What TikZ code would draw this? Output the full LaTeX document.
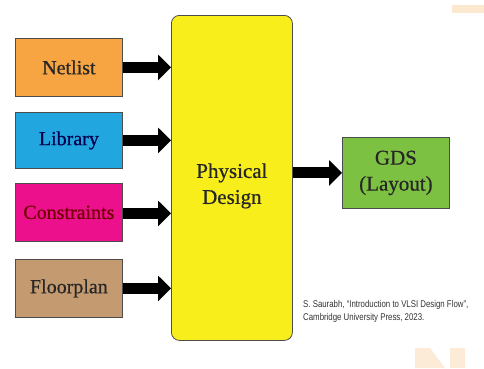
\documentclass[tikz,border=0pt]{standalone}
\usepackage{fontspec}
\setmainfont{Liberation Serif}[FakeBold=0.6]
\newfontfamily\labfont{Liberation Serif}[FakeBold=0.6]
\newfontfamily\citefont{Liberation Sans}[FakeStretch=0.8]
\usetikzlibrary{arrows.meta}
\definecolor{cnet}{HTML}{F7A443}
\definecolor{clib}{HTML}{22A6E0}
\definecolor{ccon}{HTML}{EC108C}
\definecolor{cflo}{HTML}{C49A70}
\definecolor{cyel}{HTML}{F8EE1C}
\definecolor{cgds}{HTML}{7DC143}
\definecolor{cwm}{HTML}{F9D9B0}
\tikzset{
  inbox/.style={draw=black!70, line width=0.8pt, minimum width=107pt, minimum height=58pt, inner sep=0pt, font=\labfont\fontsize{20}{22}\selectfont, text=black!85},
  bigbox/.style={draw=black!70, line width=0.8pt, align=center, font=\labfont\fontsize{21}{26}\selectfont, text=black!85},
  fatarrow/.style={line width=11pt, -{Triangle[length=13pt,width=25pt]}},
}
\begin{document}
\begin{tikzpicture}[x=1pt,y=-1pt]
\useasboundingbox (0,0) rectangle (484,368);
\fill[white] (0,0) rectangle (484,368);
% faint watermark fragments
\fill[cwm, opacity=0.6] (452,5) rectangle (484,13);
\fill[cwm, opacity=0.5] (415,348) -- (430,348) -- (445,368) -- (415,368) -- cycle;
\fill[cwm, opacity=0.5] (450,348) rectangle (465,368);
% nodes
\node[inbox, fill=cnet, anchor=north west] (net) at (15,38) {Netlist};
\node[inbox, fill=clib, anchor=north west, minimum height=56pt, text=blue!30!black] (lib) at (15,112) {Library};
\node[inbox, fill=ccon, anchor=north west, text=red!45!black] (con) at (15,183) {Constraints};
\node[inbox, fill=cflo, anchor=north west] (flo) at (15,259) {Floorplan};
\node[bigbox, fill=cyel, rounded corners=8pt, minimum width=121pt, minimum height=325pt, anchor=north west] (pd) at (171,15) {};
\node[font=\labfont\fontsize{21}{26}\selectfont, text=black!85, align=center] (pdt) at ([yshift=-8pt]pd.center) {Physical\\Design};
\node[bigbox, fill=cgds, minimum width=107pt, minimum height=71pt, anchor=north west] (gds) at (342,137) {GDS\\(Layout)};
% arrows
\draw[fatarrow] (net.east) -- (net.east -| pd.west);
\draw[fatarrow] (lib.east) -- (lib.east -| pd.west);
\draw[fatarrow] ([yshift=-1pt]con.east) -- ([yshift=-1pt]con.east -| pd.west);
\draw[fatarrow] (flo.east) -- (flo.east -| pd.west);
\draw[fatarrow] (pd.east |- gds.west) -- (gds.west);
% citation
\node[anchor=north west, align=left, font=\citefont\fontsize{9.8}{13}\selectfont, text=black!80, inner sep=0pt] (cite) at (303,300) {S. Saurabh, “Introduction to VLSI Design Flow”,\\Cambridge University Press, 2023.};
\end{tikzpicture}
\end{document}
